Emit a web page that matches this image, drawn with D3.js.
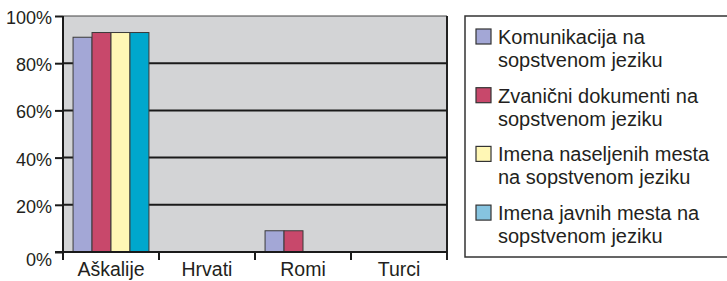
<!DOCTYPE html>
<html>
<head>
<meta charset="utf-8">
<script src="https://cdn.jsdelivr.net/npm/d3@7"></script>
<style>
  body { margin: 0; background: #fff; }
  text { font-family: "Liberation Sans", Arial, sans-serif; fill: #231f20; }
</style>
</head>
<body>
<div id="chart"></div>
<script>
// Data
const categories = ["Aškalije", "Hrvati", "Romi", "Turci"];
const seriesNames = [
    ["Komunikacija na", "sopstvenom jeziku"],
    ["Zvanični dokumenti na", "sopstvenom jeziku"],
    ["Imena naseljenih mesta", "na sopstvenom jeziku"],
    ["Imena javnih mesta na", "sopstvenom jeziku"]
];
const komunikacija = [91, 0, 9, 0];
const dokumenti    = [93, 0, 9, 0];
const naseljena    = [93, 0, 0, 0];
const javnaMesta   = [93, 0, 0, 0];
const yTicks = [0, 20, 40, 60, 80, 100];

const seriesValues = [komunikacija, dokumenti, naseljena, javnaMesta];
const barColors    = ["#a3a7d6", "#c8486b", "#fff7b5", "#00a7cd"];
const swatchColors = ["#a3a7d6", "#c8486b", "#fff7b5", "#86c4e0"];

const margin = { top: 16, left: 63 };
const width  = 384;
const height = 236;

const svg = d3.select("#chart")
    .append("svg")
    .attr("width", 727)
    .attr("height", 281);

const g = svg.append("g")
    .attr("transform", `translate(${margin.left},${margin.top})`);

const x0 = d3.scaleBand()
    .domain(categories)
    .range([0, width])
    .padding(0);

const x1 = d3.scaleBand()
    .domain(d3.range(seriesValues.length))
    .range([0, x0.bandwidth()])
    .paddingInner(0)
    .paddingOuter(0.53);

const y = d3.scaleLinear()
    .domain([0, 100])
    .range([height, 0]);

// plot background
g.append("rect")
    .attr("width", width)
    .attr("height", height)
    .attr("fill", "#d3d4d6");

// top border + right border
g.append("line")
    .attr("x1", 0).attr("x2", width)
    .attr("y1", y(100)).attr("y2", y(100))
    .attr("stroke", "#444").attr("stroke-width", 1.2);
g.append("line")
    .attr("x1", width).attr("x2", width)
    .attr("y1", 0).attr("y2", height + 8)
    .attr("stroke", "#222").attr("stroke-width", 2);

// gridlines
g.selectAll(".grid")
    .data(yTicks.filter(t => t > 0 && t < 100))
    .enter()
    .append("line")
    .attr("x1", 0).attr("x2", width)
    .attr("y1", d => y(d)).attr("y2", d => y(d))
    .attr("stroke", "#1a1a1a")
    .attr("stroke-width", 2);

// bars
const flat = [];
categories.forEach((c, ci) => {
    seriesValues.forEach((vals, si) => {
        if (vals[ci] > 0) flat.push({ cat: c, s: si, v: vals[ci] });
    });
});

g.selectAll(".bar")
    .data(flat)
    .enter()
    .append("rect")
    .attr("class", "bar")
    .attr("x", d => x0(d.cat) + x1(d.s))
    .attr("y", d => y(d.v))
    .attr("width", x1.bandwidth())
    .attr("height", d => y(0) - y(d.v))
    .attr("fill", d => barColors[d.s])
    .attr("stroke", "#3a3a3a")
    .attr("stroke-width", 1);

// bottom baseline
g.append("line")
    .attr("x1", -8).attr("x2", width)
    .attr("y1", y(0)).attr("y2", y(0))
    .attr("stroke", "#1a1a1a").attr("stroke-width", 2);

// y axis
const yAxis = d3.axisLeft(y)
    .tickValues(yTicks)
    .tickSize(8)
    .tickPadding(3)
    .tickFormat(d => d + "%");

const yg = g.append("g").call(yAxis);
yg.select(".domain").remove();
yg.selectAll(".tick line").attr("stroke", "#1a1a1a").attr("stroke-width", 2);
yg.selectAll(".tick text")
    .style("font-size", "18px")
    .style("font-family", "'Liberation Sans', Arial, sans-serif")
    .attr("fill", "#231f20")
    .attr("dy", d => d === 0 ? "0.75em" : "0.42em");

g.append("line")
    .attr("x1", 0).attr("x2", 0)
    .attr("y1", 0).attr("y2", height + 8)
    .attr("stroke", "#1a1a1a").attr("stroke-width", 2);

// x ticks at category boundaries
g.selectAll(".xtick")
    .data(categories.slice(1))
    .enter()
    .append("line")
    .attr("x1", d => x0(d)).attr("x2", d => x0(d))
    .attr("y1", height).attr("y2", height + 8)
    .attr("stroke", "#1a1a1a").attr("stroke-width", 2);

g.selectAll(".xlabel")
    .data(categories)
    .enter()
    .append("text")
    .attr("x", d => x0(d) + x0.bandwidth() / 2)
    .attr("y", height + 24)
    .attr("text-anchor", "middle")
    .style("font-size", "19.5px")
    .text(d => d);

// legend
const legend = svg.append("g")
    .attr("transform", "translate(465,16)");

legend.append("rect")
    .attr("x", 0).attr("y", 0)
    .attr("width", 280).attr("height", 241)
    .attr("fill", "#fff")
    .attr("stroke", "#333")
    .attr("stroke-width", 1.5);

const items = legend.selectAll(".item")
    .data(seriesNames)
    .enter()
    .append("g")
    .attr("transform", (d, i) => `translate(11,${13 + i * 58.7})`);

items.append("rect")
    .attr("width", 15).attr("height", 15)
    .attr("fill", (d, i) => swatchColors[i])
    .attr("stroke", "#333")
    .attr("stroke-width", 1.2);

items.each(function(d) {
    const t = d3.select(this).append("text")
        .attr("x", 22)
        .attr("y", 15)
        .style("font-size", "20px");
    d.forEach((line, li) => {
        t.append("tspan")
            .attr("x", 22)
            .attr("dy", li === 0 ? 0 : 23)
            .text(line);
    });
});
</script>
</body>
</html>
